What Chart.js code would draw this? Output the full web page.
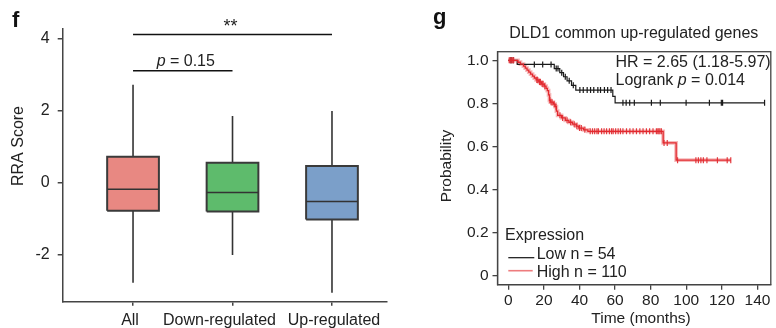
<!DOCTYPE html>
<html>
<head>
<meta charset="utf-8">
<script src="https://cdn.jsdelivr.net/npm/chart.js@4.4.1/dist/chart.umd.min.js"></script>
<style>
html, body { margin: 0; padding: 0; background: #fff; }
#wrap { position: relative; width: 776px; height: 328px; overflow: hidden; }
#boxChart { position: absolute; left: 0; top: 0; }
#kmChart { position: absolute; left: 420px; top: 0; }
</style>
</head>
<body>
<div id="wrap">
  <canvas id="boxChart" width="420" height="328"></canvas>
  <canvas id="kmChart" width="356" height="328"></canvas>
</div>
<script>
const FONT = '"Liberation Sans", Arial, Helvetica, sans-serif';
Chart.defaults.font.family = FONT;
Chart.defaults.color = '#222';

// ---- panel f : RRA score boxes ----
const groups = ['All', 'Down-regulated', 'Up-regulated'];
const boxMin = [-2.79, -2.02, -3.07];
const boxQ1 = [-0.79, -0.81, -1.03];
const boxMed = [-0.19, -0.28, -0.53];
const boxQ3 = [0.72, 0.55, 0.46];
const boxMax = [2.72, 1.85, 1.99];
const boxFill = ['#E88882', '#5EBB6C', '#7B9FC9'];
const rraTicks = [-2, 0, 2, 4];
const bracketFrom = [0, 0];
const bracketTo = [2, 1];
const bracketY = [4.12, 3.11];
const bracketText = ['**', 'p = 0.15'];

// ---- panel g : survival curves ----
const lowTime = [0, 5, 25.8, 28.9, 31, 33, 35.5, 37.9, 58.7, 60, 144];
const lowSurv = [1.0, 0.981, 0.962, 0.943, 0.924, 0.905, 0.884, 0.862, 0.833, 0.803, 0.803];
const lowCensor = [1.2, 1.8, 2.8, 14.6, 19.3, 24, 26.9, 27.9, 30, 32, 34.2, 36.5, 40.2, 42.1, 44.3, 46.2, 48, 50.3, 51.8, 54, 55.8, 57.7, 64.4, 66.2, 68.2, 70.8, 80.4, 85.4, 99.9, 113, 119.7, 120.4, 144];

const highTime = [0, 5.4, 6.8, 8.5, 9.5, 10.5, 11.5, 12.5, 13.6, 14.6, 15.6, 17.1, 18.7, 20.2, 21.2, 21.9, 22.6, 23.1, 23.6, 25.3, 26.3, 27, 27.7, 29.9, 32, 34, 36, 38.1, 39.6, 42.2, 44.7, 87, 94.3, 125];
const highSurv = [1.0, 0.991, 0.982, 0.973, 0.964, 0.955, 0.945, 0.936, 0.927, 0.918, 0.909, 0.900, 0.890, 0.880, 0.870, 0.860, 0.840, 0.815, 0.806, 0.797, 0.785, 0.765, 0.745, 0.733, 0.722, 0.713, 0.704, 0.695, 0.686, 0.678, 0.671, 0.617, 0.537, 0.537];
const highCensor = [0.5, 1, 1.5, 2, 2.5, 3, 16, 16.5, 17.5, 18, 19, 19.5, 20.5, 23.4, 24, 24.6, 25.8, 26.8, 29, 30.5, 33, 35, 37, 38.5, 40, 41, 43, 46, 47.3, 48.5, 49.8, 50.6, 52.4, 53.8, 55.2, 56.8, 58, 58.9, 60.3, 61.7, 63, 64.4, 66.4, 68.3, 70.1, 72, 73.9, 75.7, 77.6, 79.4, 81.3, 83.2, 84, 84.6, 85.2, 86, 87.5, 89.3, 95.1, 105.4, 106.8, 108.2, 109.6, 111.6, 117.5, 123, 125];
const monthTicks = [0, 20, 40, 60, 80, 100, 120, 140];
const probTicks = [0, 0.2, 0.4, 0.6, 0.8, 1.0];

const BOX_HALF = 0.26;
const LABEL_SHIFT = [-3, -13, 2]; // px nudge of the group names, as in the figure
const DARK = '#333';

// survival value at time t (step function)
function survAt(times, surv, t) {
    let v = surv[0];
    for (let i = 0; i < times.length; i++) {
        if (times[i] <= t) v = surv[i];
    }
    return v;
}

// draws text where a leading "p" is italic
function drawStat(ctx, text, x, y, align, size) {
    const parts = text.startsWith('p ') ? [['p', 'italic '], [text.slice(1), '']] : [[text, '']];
    let total = 0;
    parts.forEach(p => { ctx.font = p[1] + size + 'px ' + FONT; total += ctx.measureText(p[0]).width; });
    let cx = align === 'center' ? x - total / 2 : x;
    ctx.textAlign = 'left';
    parts.forEach(p => {
        ctx.font = p[1] + size + 'px ' + FONT;
        ctx.fillText(p[0], cx, y);
        cx += ctx.measureText(p[0]).width;
    });
}

function lineDs(points, color, width, order) {
    return { type: 'line', data: points, borderColor: color, borderWidth: width, pointRadius: 0, fill: false, order: order };
}

// ---------- left chart ----------
const boxDatasets = [];
groups.forEach((g, i) => {
    boxDatasets.push(lineDs([{ x: i, y: boxMin[i] }, { x: i, y: boxMax[i] }], DARK, 1.6, 4));
    boxDatasets.push({
        type: 'line',
        data: [
            { x: i - BOX_HALF, y: boxQ1[i] }, { x: i + BOX_HALF, y: boxQ1[i] },
            { x: i + BOX_HALF, y: boxQ3[i] }, { x: i - BOX_HALF, y: boxQ3[i] },
            { x: i - BOX_HALF, y: boxQ1[i] }
        ],
        fill: 'shape', backgroundColor: boxFill[i],
        borderColor: '#3a3a3a', borderWidth: 2, borderJoinStyle: 'miter',
        pointRadius: 0, order: 3
    });
    boxDatasets.push(lineDs([{ x: i - BOX_HALF, y: boxMed[i] }, { x: i + BOX_HALF, y: boxMed[i] }], DARK, 1.6, 2));
});
bracketY.forEach((y, k) => {
    boxDatasets.push(lineDs([{ x: bracketFrom[k], y: y }, { x: bracketTo[k], y: y }], '#111', 1.5, 1));
});

const boxText = {
    id: 'boxText',
    afterDraw(chart) {
        const ctx = chart.ctx;
        const xs = chart.scales.x, ys = chart.scales.y;
        ctx.save();
        ctx.fillStyle = '#111';
        ctx.font = 'bold 22px ' + FONT;
        ctx.textAlign = 'left';
        ctx.textBaseline = 'alphabetic';
        ctx.fillText('f', 12, 26.7);

        ctx.fillStyle = '#222';
        bracketY.forEach((y, k) => {
            const cx = xs.getPixelForValue((bracketFrom[k] + bracketTo[k]) / 2);
            if (k === 0) drawStat(ctx, bracketText[k], cx - 2, ys.getPixelForValue(y) - 3, 'center', 18);
            else drawStat(ctx, bracketText[k], cx + 3, ys.getPixelForValue(y) - 5, 'center', 16);
        });

        // group names under the ticks
        ctx.font = '16px ' + FONT;
        ctx.textAlign = 'center';
        ctx.textBaseline = 'alphabetic';
        groups.forEach((g, i) => {
            ctx.fillText(g, xs.getPixelForValue(i) + LABEL_SHIFT[i], 325);
        });

        ctx.save();
        ctx.translate(19, 146);
        ctx.rotate(-Math.PI / 2);
        ctx.font = '16px ' + FONT;
        ctx.textAlign = 'center';
        ctx.textBaseline = 'middle';
        ctx.fillText('RRA Score', 0, 0);
        ctx.restore();
        ctx.restore();
    }
};

new Chart(document.getElementById('boxChart'), {
    type: 'line',
    data: { datasets: boxDatasets },
    options: {
        responsive: false, animation: false, events: [],
        layout: { padding: { top: 28.3, right: 33, left: 0, bottom: 0 } },
        plugins: { legend: { display: false }, tooltip: { enabled: false } },
        scales: {
            x: {
                type: 'linear', min: -0.707, max: 2.553,
                afterBuildTicks: s => { s.ticks = groups.map((g, i) => ({ value: i })); },
                afterFit: s => { s.height = 26.3; },
                ticks: { callback: () => '', font: { size: 16 }, padding: 3, maxRotation: 0, autoSkip: false },
                grid: { drawOnChartArea: false, drawTicks: true, tickLength: 4, color: '#444', lineWidth: 1.5 },
                border: { display: true, color: '#444', width: 1.5 }
            },
            y: {
                type: 'linear', min: -3.32, max: 4.295,
                afterBuildTicks: s => { s.ticks = rraTicks.map(v => ({ value: v })); },
                afterFit: s => { s.width = 62.7; },
                ticks: { callback: v => String(v), font: { size: 16 }, color: '#222', padding: 8 },
                grid: { drawOnChartArea: false, drawTicks: true, tickLength: 5, color: '#444', lineWidth: 1.5 },
                border: { display: true, color: '#444', width: 1.5 }
            }
        }
    },
    plugins: [boxText]
});

// ---------- right chart ----------
const toPts = (t, s) => t.map((v, i) => ({ x: v, y: s[i] }));
const censorDs = (list, times, surv, color, order) => ({
    type: 'line', showLine: false,
    data: list.map(t => ({ x: t, y: survAt(times, surv, t) })),
    pointStyle: 'line', pointRotation: 90, pointRadius: 3,
    pointBorderWidth: 1.2, pointBorderColor: color, order: order
});

const kmText = {
    id: 'kmText',
    afterDraw(chart) {
        const ctx = chart.ctx;
        const ca = chart.chartArea;
        ctx.save();
        ctx.strokeStyle = '#444';
        ctx.lineWidth = 1.3;
        ctx.strokeRect(ca.left, ca.top, ca.right - ca.left, ca.bottom - ca.top);

        ctx.fillStyle = '#111';
        ctx.font = 'bold 22px ' + FONT;
        ctx.textAlign = 'left';
        ctx.textBaseline = 'alphabetic';
        ctx.fillText('g', 13, 23.7);

        ctx.fillStyle = '#222';
        ctx.font = '16px ' + FONT;
        ctx.textAlign = 'center';
        ctx.textBaseline = 'middle';
        ctx.fillText('DLD1 common up-regulated genes', 213.8, 34);
        ctx.font = '15.5px ' + FONT;
        ctx.fillText('Time (months)', 221, 318.5);

        ctx.save();
        ctx.translate(26.5, 166);
        ctx.rotate(-Math.PI / 2);
        ctx.fillText('Probability', 0, 0);
        ctx.restore();

        ctx.textBaseline = 'middle';
        ctx.font = '16px ' + FONT;
        ctx.textAlign = 'left';
        ctx.fillText('HR = 2.65 (1.18-5.97)', 195.5, 63);
        ctx.fillText('Logrank ', 195.5, 81);
        const w = ctx.measureText('Logrank ').width;
        drawStat(ctx, 'p = 0.014', 195.5 + w, 81, 'left', 16);

        ctx.textBaseline = 'alphabetic';
        ctx.font = '16px ' + FONT;
        ctx.fillText('Expression', 85, 239.5);
        ctx.fillText('Low n = 54', 116.7, 258.5);
        ctx.fillText('High n = 110', 116.7, 277);
        ctx.lineWidth = 1.2;
        ctx.strokeStyle = '#111';
        ctx.beginPath(); ctx.moveTo(88.3, 257.7); ctx.lineTo(114.3, 257.7); ctx.stroke();
        ctx.strokeStyle = 'rgba(236,110,112,0.9)';
        ctx.lineWidth = 1.6;
        ctx.beginPath(); ctx.moveTo(88.3, 270.7); ctx.lineTo(112.7, 270.7); ctx.stroke();
        ctx.restore();
    }
};

new Chart(document.getElementById('kmChart'), {
    type: 'line',
    data: {
        datasets: [
            { type: 'line', data: toPts(highTime, highSurv), stepped: 'before', borderColor: 'rgba(240,140,142,0.6)', borderWidth: 3.8, pointRadius: 0, order: 4 },
            { type: 'line', data: toPts(lowTime, lowSurv), stepped: 'before', borderColor: '#1a1a1a', borderWidth: 1.2, pointRadius: 0, order: 3 },
            censorDs(lowCensor, lowTime, lowSurv, '#1a1a1a', 3),
            { type: 'line', data: toPts(highTime, highSurv), stepped: 'before', borderColor: '#E2282E', borderWidth: 1.3, pointRadius: 0, order: 1 },
            censorDs(highCensor, highTime, highSurv, '#E3393E', 1)
        ]
    },
    options: {
        responsive: false, animation: false, events: [],
        layout: { padding: { top: 51.7, right: 2, left: 0, bottom: 0 } },
        plugins: { legend: { display: false }, tooltip: { enabled: false } },
        scales: {
            x: {
                type: 'linear', min: -6.1, max: 147.5,
                afterBuildTicks: s => { s.ticks = monthTicks.map(v => ({ value: v })); },
                afterFit: s => { s.height = 43.3; },
                ticks: { callback: v => String(v), font: { size: 15.5 }, color: '#222', padding: 2, maxRotation: 0, autoSkip: false },
                grid: { drawOnChartArea: false, drawTicks: true, tickLength: 5, color: '#444', lineWidth: 1.3 },
                border: { display: true, color: '#444', width: 1.3 }
            },
            y: {
                type: 'linear', min: -0.04, max: 1.04,
                afterBuildTicks: s => { s.ticks = probTicks.map(v => ({ value: v })); },
                afterFit: s => { s.width = 77.5; },
                ticks: { callback: v => v === 0 ? '0' : v.toFixed(1), font: { size: 15.5 }, color: '#222', padding: 4 },
                grid: { drawOnChartArea: false, drawTicks: true, tickLength: 5, color: '#444', lineWidth: 1.3 },
                border: { display: true, color: '#444', width: 1.3 }
            }
        }
    },
    plugins: [kmText]
});
</script>
</body>
</html>
